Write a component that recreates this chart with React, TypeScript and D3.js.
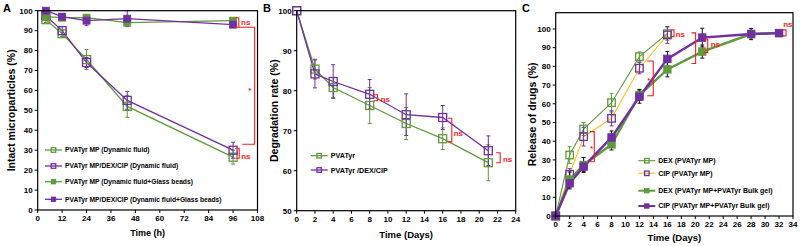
import React from 'react';
import * as d3 from 'd3';

const GREEN = '#5f9a3c';
const PURPLE = '#7030a0';
const YELLOW = '#f7c31a';
const RED = '#ff1a1a';
const FONT = 'Liberation Sans, Arial, sans-serif';

// ---------- Panel A data ----------
const aTimes = [4, 12, 24, 44, 96];
const aMP = [95.5, 88.5, 75.5, 52, 26.5];
const aMPErr = [1.5, 1.5, 5, 5.5, 3.5];
const aMPDrug = [97.5, 90, 74, 55, 30];
const aMPDrugErr = [1, 2, 2.5, 4.5, 4];
const aMPBeads = [97, 96.5, 96.5, 94, 95];
const aMPBeadsErr = [1, 1, 1.5, 1, 1];
const aMPDrugBeads = [100, 97, 95, 96, 93];
const aMPDrugBeadsErr = [1, 1.5, 2.5, 4, 1.5];
const aXTicks = [0, 12, 24, 36, 48, 60, 72, 84, 96, 108];
const aYTicks = [0, 10, 20, 30, 40, 50, 60, 70, 80, 90, 100];
const aLegend = [
  'PVATyr MP (Dynamic fluid)',
  'PVATyr MP/DEX/CIP (Dynamic fluid)',
  'PVATyr MP  (Dynamic fluid+Glass beads)',
  'PVATyr MP/DEX/CIP  (Dynamic fluid+Glass beads)',
];

// ---------- Panel B data ----------
const bDays = [0, 2, 4, 8, 12, 16, 21];
const bPVATyr = [100, 85.4, 80.8, 76.3, 71.8, 68, 62];
const bPVATyrErr = [0, 2.5, 2.5, 4.5, 4, 2.7, 4.5];
const bDrug = [100, 84.2, 82.3, 79.1, 74, 73.3, 65];
const bDrugErr = [0, 3.5, 4.2, 3.7, 5.2, 3, 3.7];
const bXTicks = [0, 2, 4, 6, 8, 10, 12, 14, 16, 18, 20, 22, 24];
const bYTicks = [50, 60, 70, 80, 90, 100];
const bLegend = ['PVATyr', 'PVATyr /DEX/CIP'];

// ---------- Panel C data ----------
const cDaysMP = [0, 2, 4, 8, 12, 16];
const cDexMP = [0, 32.6, 46.5, 60.6, 85.2, 97.5];
const cDexMPErr = [0, 4.5, 3.5, 5, 2.5, 3.5];
const cCipMP = [0, 22.3, 42.4, 52.2, 79, 96.8];
const cCipMPErr = [0, 3, 5, 4, 3, 4.5];
const cDaysGel = [0, 2, 4, 8, 12, 16, 21, 28, 32];
const cDexGel = [0, 19.5, 27.3, 38.3, 64.7, 78.4, 87.9, 97.3, 97.8];
const cDexGelErr = [0, 4, 4, 3, 3, 4, 3.5, 3, 1.5];
const cCipGel = [0, 17.5, 26.4, 42, 63.8, 84, 95.4, 97.3, 97.8];
const cCipGelErr = [0, 3, 2.5, 3.5, 3.5, 4, 5, 2, 1.5];
const cXTicks = d3.range(0, 35, 2);
const cYTicks = d3.range(0, 101, 10);
const cLegend = [
  'DEX (PVATyr MP)',
  'CIP (PVATyr MP)',
  'DEX (PVATyr MP+PVATyr Bulk gel)',
  'CIP (PVATyr MP+PVATyr Bulk gel)',
];

type Series = {
  xs: number[];
  ys: number[];
  err: number[];
  line: string;
  lineWidth: number;
  marker: string;
  filled: boolean;
  size: number;
  errColor: string;
};

type PanelProps = {
  left: number;
  right: number;
  top: number;
  bottom: number;
  xDomain: [number, number];
  yDomain: [number, number];
  xTicks: number[];
  yTicks: number[];
  series: Series[];
  xTitle: string;
  yTitle: string;
  yTitleX: number;
  xTitleY: number;
  xTitleSize: number;
  yTitleSize: number;
  tickSize: number;
  letter: string;
  letterX: number;
  legend: { label: string; s: Series }[];
  legendX: number;
  legendYs: number[];
  legendSize: number;
  annotations: (x: d3.ScaleLinear<number, number>, y: d3.ScaleLinear<number, number>) => React.ReactNode;
};

function Marker({ cx, cy, s, size }: { cx: number; cy: number; s: Series; size: number }) {
  return (
    <rect
      x={cx - size / 2}
      y={cy - size / 2}
      width={size}
      height={size}
      fill={s.filled ? s.marker : 'none'}
      stroke={s.marker}
      strokeWidth={s.filled ? 0.8 : 1.3}
    />
  );
}

function Panel(p: PanelProps) {
  const x = d3.scaleLinear().domain(p.xDomain).range([p.left, p.right]);
  const y = d3.scaleLinear().domain(p.yDomain).range([p.bottom, p.top]);
  const line = d3
    .line<[number, number]>()
    .x((d) => x(d[0]))
    .y((d) => y(d[1]));
  return (
    <g fontFamily={FONT}>
      <text x={p.letterX} y={12} fontSize={11} fontWeight="bold">
        {p.letter}
      </text>
      {p.series.map((s, i) => (
        <path
          key={'l' + i}
          d={line(s.xs.map((v, j) => [v, s.ys[j]] as [number, number])) || ''}
          fill="none"
          stroke={s.line}
          strokeWidth={s.lineWidth}
        />
      ))}
      {p.series.map((s, i) => (
        <g key={'e' + i} stroke={s.errColor} strokeWidth={1}>
          {s.xs.map((v, j) =>
            s.err[j] > 0 ? (
              <g key={j}>
                <line x1={x(v)} x2={x(v)} y1={y(s.ys[j] - s.err[j])} y2={y(s.ys[j] + s.err[j])} />
                <line x1={x(v) - 2} x2={x(v) + 2} y1={y(s.ys[j] - s.err[j])} y2={y(s.ys[j] - s.err[j])} />
                <line x1={x(v) - 2} x2={x(v) + 2} y1={y(s.ys[j] + s.err[j])} y2={y(s.ys[j] + s.err[j])} />
              </g>
            ) : null
          )}
        </g>
      ))}
      {p.series.map((s, i) => (
        <g key={'m' + i}>
          {s.xs.map((v, j) => (
            <Marker key={j} cx={x(v)} cy={y(s.ys[j])} s={s} size={s.size} />
          ))}
        </g>
      ))}
      <rect
        x={p.left}
        y={p.top}
        width={p.right - p.left}
        height={p.bottom - p.top}
        fill="none"
        stroke="#000"
        strokeWidth={1.2}
      />
      {p.xTicks.map((t) => (
        <g key={'xt' + t}>
          <line x1={x(t)} x2={x(t)} y1={p.bottom} y2={p.bottom + 3} stroke="#000" strokeWidth={1} />
          <text x={x(t)} y={p.bottom + 11} fontSize={p.tickSize} fontWeight="bold" textAnchor="middle">
            {t}
          </text>
        </g>
      ))}
      {p.yTicks.map((t) => (
        <g key={'yt' + t}>
          <line x1={p.left - 3} x2={p.left} y1={y(t)} y2={y(t)} stroke="#000" strokeWidth={1} />
          <text
            x={p.left - 5}
            y={y(t)}
            dy="0.35em"
            fontSize={p.tickSize}
            fontWeight="bold"
            textAnchor="end"
          >
            {t}
          </text>
        </g>
      ))}
      <text
        x={(p.left + p.right) / 2}
        y={p.xTitleY}
        fontSize={p.xTitleSize}
        fontWeight="bold"
        textAnchor="middle"
      >
        {p.xTitle}
      </text>
      <text
        transform={`translate(${p.yTitleX},${(p.top + p.bottom) / 2}) rotate(-90)`}
        fontSize={p.yTitleSize}
        fontWeight="bold"
        textAnchor="middle"
        dy="0.35em"
      >
        {p.yTitle}
      </text>
      {p.legend.map((l, i) => (
        <g key={'lg' + i}>
          <line
            x1={p.legendX}
            x2={p.legendX + 17}
            y1={p.legendYs[i]}
            y2={p.legendYs[i]}
            stroke={l.s.line}
            strokeWidth={Math.min(l.s.lineWidth, 2)}
          />
          <Marker cx={p.legendX + 8.5} cy={p.legendYs[i]} s={l.s} size={4.5} />
          <text x={p.legendX + 20} y={p.legendYs[i]} dy="0.35em" fontSize={p.legendSize} fontWeight="bold">
            {l.label}
          </text>
        </g>
      ))}
      <g fill="none" stroke={RED} strokeWidth={1.1}>
        {p.annotations(x, y)}
      </g>
    </g>
  );
}

function Bracket({ x, y1, y2, w = 4, left = true }: { x: number; y1: number; y2: number; w?: number; left?: boolean }) {
  const dx = left ? -w : w;
  return <path d={`M${x + dx},${y1} H${x} V${y2} H${x + dx}`} />;
}

function RedText({ x, y, t, size = 8 }: { x: number; y: number; t: string; size?: number }) {
  return (
    <text x={x} y={y} fill={RED} stroke="none" fontSize={size} fontWeight="bold" fontFamily={FONT}>
      {t}
    </text>
  );
}

export default function App() {
  const sA: Series[] = [
    { xs: aTimes, ys: aMP, err: aMPErr, line: GREEN, lineWidth: 1.3, marker: GREEN, filled: false, size: 8, errColor: GREEN },
    { xs: aTimes, ys: aMPDrug, err: aMPDrugErr, line: PURPLE, lineWidth: 1.3, marker: PURPLE, filled: false, size: 8, errColor: PURPLE },
    { xs: aTimes, ys: aMPBeads, err: aMPBeadsErr, line: GREEN, lineWidth: 1.3, marker: GREEN, filled: true, size: 7, errColor: GREEN },
    { xs: aTimes, ys: aMPDrugBeads, err: aMPDrugBeadsErr, line: PURPLE, lineWidth: 1.3, marker: PURPLE, filled: true, size: 7, errColor: PURPLE },
  ];
  const sB: Series[] = [
    { xs: bDays, ys: bPVATyr, err: bPVATyrErr, line: GREEN, lineWidth: 1.3, marker: GREEN, filled: false, size: 8, errColor: GREEN },
    { xs: bDays, ys: bDrug, err: bDrugErr, line: PURPLE, lineWidth: 1.3, marker: PURPLE, filled: false, size: 8, errColor: PURPLE },
  ];
  const sC: Series[] = [
    { xs: cDaysMP, ys: cDexMP, err: cDexMPErr, line: GREEN, lineWidth: 1.1, marker: GREEN, filled: false, size: 7.5, errColor: GREEN },
    { xs: cDaysMP, ys: cCipMP, err: cCipMPErr, line: YELLOW, lineWidth: 1.1, marker: PURPLE, filled: false, size: 7.5, errColor: PURPLE },
    { xs: cDaysGel, ys: cDexGel, err: cDexGelErr, line: GREEN, lineWidth: 2.4, marker: GREEN, filled: true, size: 7.5, errColor: '#111' },
    { xs: cDaysGel, ys: cCipGel, err: cCipGelErr, line: PURPLE, lineWidth: 2.4, marker: PURPLE, filled: true, size: 7.5, errColor: '#111' },
  ];

  return (
    <svg
      width={800}
      height={246}
      viewBox="0 0 800 246"
      style={{ position: 'absolute', left: 0, top: 0, background: '#fff' }}
    >
      <rect x={0} y={0} width={800} height={246} fill="#fff" />
      <Panel
        left={37.7}
        right={257.5}
        top={10.7}
        bottom={210}
        xDomain={[0, 108]}
        yDomain={[0, 100]}
        xTicks={aXTicks}
        yTicks={aYTicks}
        series={sA}
        xTitle="Time (h)"
        yTitle="Intact microparticles (%)"
        yTitleX={11}
        xTitleY={236}
        xTitleSize={9}
        yTitleSize={10.5}
        tickSize={8}
        letter="A"
        letterX={3}
        legend={aLegend.map((label, i) => ({ label, s: sA[i] }))}
        legendX={45}
        legendYs={[150, 166, 181.7, 199.3]}
        legendSize={6.7}
        annotations={(x, y) => (
          <g>
            <Bracket x={x(98.8)} y1={y(96.5)} y2={y(91.7)} left />
            <path d={`M${x(98.8)},${y(91.7)} H${x(106.6)} V${y(33)} H${x(100.5)}`} />
            <Bracket x={x(99)} y1={y(31)} y2={y(26)} left />
            <RedText x={x(99.9)} y={y(93)} t="ns" />
            <RedText x={x(100)} y={y(25.5)} t="ns" />
            <RedText x={x(103.5)} y={y(58.5)} t="*" />
          </g>
        )}
      />
      <Panel
        left={296.7}
        right={515.7}
        top={10.7}
        bottom={210.7}
        xDomain={[0, 24]}
        yDomain={[50, 100]}
        xTicks={bXTicks}
        yTicks={bYTicks}
        series={sB}
        xTitle="Time (Days)"
        yTitle="Degradation rate (%)"
        yTitleX={274}
        xTitleY={238}
        xTitleSize={9.5}
        yTitleSize={10.5}
        tickSize={8}
        letter="B"
        letterX={263}
        legend={bLegend.map((label, i) => ({ label, s: sB[i] }))}
        legendX={310.7}
        legendYs={[155.7, 170]}
        legendSize={7.2}
        annotations={(x, y) => (
          <g>
            <Bracket x={x(8.85)} y1={y(79)} y2={y(77.5)} />
            <RedText x={x(9.2)} y={y(77.2)} t="ns" />
            <Bracket x={x(17)} y1={y(73.1)} y2={y(67.2)} />
            <RedText x={x(17.2)} y={y(68.6)} t="ns" />
            <Bracket x={x(22.3)} y1={y(64.5)} y2={y(62)} />
            <RedText x={x(22.6)} y={y(62.3)} t="ns" />
          </g>
        )}
      />
      <Panel
        left={555.7}
        right={793}
        top={12.7}
        bottom={216}
        xDomain={[0, 34]}
        yDomain={[0, 108.7]}
        xTicks={cXTicks}
        yTicks={cYTicks}
        series={sC}
        xTitle="Time (Days)"
        yTitle="Release of drugs (%)"
        yTitleX={532}
        xTitleY={241}
        xTitleSize={9.5}
        yTitleSize={10.5}
        tickSize={8}
        letter="C"
        letterX={522}
        legend={cLegend.map((label, i) => ({ label, s: sC[i] }))}
        legendX={638.3}
        legendYs={[160.7, 173.3, 190.7, 206]}
        legendSize={7}
        annotations={(x, y) => (
          <g>
            <Bracket x={x(5.53)} y1={y(45.1)} y2={y(29)} w={4.3} />
            <RedText x={x(4.9)} y={y(34.5)} t="*" />
            <Bracket x={x(13.98)} y1={y(82.9)} y2={y(64.3)} w={6} />
            <RedText x={x(13.1)} y={y(71)} t="*" />
            <Bracket x={x(16.95)} y1={y(99.5)} y2={y(95.9)} w={3} />
            <RedText x={x(17.2)} y={y(95.6)} t="ns" />
            <path d={`M${x(19.45)},${y(97.9)} H${x(20.05)} V${y(81.5)} H${x(19.45)}`} />
            <Bracket x={x(21.78)} y1={y(94.5)} y2={y(87.5)} />
            <RedText x={x(22.2)} y={y(90.6)} t="ns" />
            <Bracket x={x(33)} y1={y(99.5)} y2={y(96.3)} w={3} />
            <RedText x={x(32.6)} y={y(100.8)} t="ns" />
          </g>
        )}
      />
    </svg>
  );
}
